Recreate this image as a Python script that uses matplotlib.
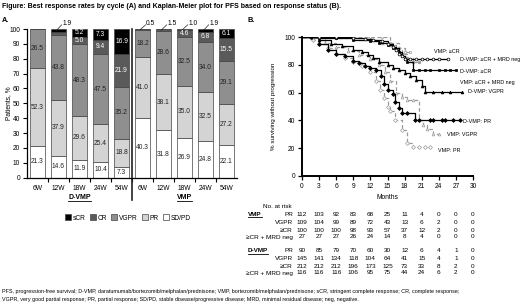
import matplotlib
matplotlib.use('Agg')
import matplotlib.pyplot as plt
import matplotlib.transforms as mtransforms
from matplotlib.patches import Patch
from matplotlib.lines import Line2D
import numpy as np

plt.rcParams['font.family'] = ['Liberation Sans Narrow', 'Liberation Sans', 'DejaVu Sans']
plt.rcParams['font.size'] = 5

# ---- panel A data: best response by cycle ----
cycles = ['6W', '12W', '18W', '24W', '54W']
groups = ['D-VMP', 'VMP']
resp_names = ['sCR', 'CR', 'VGPR', 'PR', 'SD/PD']

dvmp_sdpd = [21.3, 14.6, 11.9, 10.4, 7.3]
dvmp_pr = [52.3, 37.9, 29.6, 25.4, 18.8]
dvmp_vgpr = [26.5, 43.8, 48.3, 47.5, 35.2]
dvmp_cr = [0.0, 1.8, 5.0, 9.4, 21.9]
dvmp_scr = [0.0, 1.9, 5.2, 7.3, 16.9]

vmp_sdpd = [40.3, 31.8, 26.9, 24.8, 22.1]
vmp_pr = [41.0, 38.1, 35.0, 32.5, 27.2]
vmp_vgpr = [18.2, 28.6, 32.5, 34.0, 29.1]
vmp_cr = [0.5, 1.5, 4.6, 6.8, 15.5]
vmp_scr = [0.0, 0.0, 1.0, 1.9, 6.1]

# ---- panel B data: KM curves (months, % surviving) ----
dvmp_mrd_t = [0, 3, 6, 9, 11, 12.5, 14, 15, 16, 16.5, 17, 17.5, 18, 19, 20, 21, 22, 23, 24, 25.6]
dvmp_mrd_s = [100, 100, 100, 99, 98.5, 97.5, 97, 95, 93, 91, 88, 86, 84, 84, 84, 84, 84, 84, 84, 84]
dvmp_cr_t = [0, 3, 6, 9, 12, 13.5, 15, 16, 17, 17.5, 18, 18.5, 19.5, 20.5, 21.5, 22.5, 24, 25, 26, 27]
dvmp_cr_s = [100, 99.5, 99, 98, 97, 96, 94, 92, 89, 86, 84, 82, 76, 76, 76, 76, 76, 76, 76, 76]
vmp_cr_t = [0, 3, 6, 9, 12, 14, 15.5, 16.5, 17.5, 18.5, 19.5, 20.5]
vmp_cr_s = [100, 100, 99, 99, 98, 96, 94, 91, 88, 85, 82, 82]
vmp_mrd_t = [0, 3, 6, 9, 12, 14, 15.5, 17, 18, 19]
vmp_mrd_s = [100, 100, 100, 100, 100, 100, 96, 92, 89, 89]
dvmp_vgpr_t = [0, 1.5, 3, 5, 7, 9, 10.5, 11.5, 12.5, 13.5, 15, 16, 17, 18, 19, 20, 21, 21.6, 23, 24.5, 26, 28]
dvmp_vgpr_s = [100, 100, 97.5, 95, 93.5, 91, 89, 87, 85, 82, 80, 78, 76, 74, 72, 69, 65, 60.5, 60.5, 60.5, 60.5, 60.5]
dvmp_pr_t = [0, 1.5, 3, 4.5, 6, 7.5, 9, 10, 11, 12, 13, 13.8, 14.3, 15, 16, 16.3, 17, 17.6, 18.5, 19.8,
             20.5, 22.5, 23, 24.5, 25, 26.5, 27.7]
dvmp_pr_s = [100, 100, 95, 91, 88, 86, 83, 81, 79, 78, 76, 72, 66, 62, 59, 53, 49, 45, 45, 40,
             40, 40, 40, 40, 40, 40, 40]
vmp_vgpr_t = [0, 2, 4, 6, 8, 10, 12, 13.5, 14.5, 15.5, 16.5, 17.5, 18.5, 19.5, 20.5, 21.2, 22, 23, 24]
vmp_vgpr_s = [100, 99, 96, 93, 90, 87, 84, 80, 75, 68, 60, 57, 55, 55, 40, 37, 34, 30, 30]
vmp_pr_t = [0, 2, 3, 4.5, 6, 7.5, 9, 10.5, 12, 13, 13.7, 14.3, 15, 15.5, 16.3, 17.5, 18.5, 19.5, 20.5, 21.5, 22.5]
vmp_pr_s = [100, 98, 95, 92, 88, 85, 82, 79, 75, 68, 62, 56, 50, 47, 40, 33, 24, 21, 21, 21, 21]

# number at risk
risk_months = list(range(0, 31, 3))
risk_rows = ['PR', 'VGPR', '\u2265CR', '\u2265CR + MRD neg']
vmp_risk = [
    [112, 103, 92, 83, 68, 25, 11, 4, 0, 0, 0],
    [109, 104, 99, 89, 72, 43, 13, 6, 2, 0, 0],
    [100, 100, 100, 98, 93, 57, 37, 12, 2, 0, 0],
    [27, 27, 27, 26, 24, 14, 8, 4, 0, 0, 0],
]
dvmp_risk = [
    [90, 85, 79, 70, 60, 30, 12, 6, 4, 1, 0],
    [145, 141, 134, 118, 104, 64, 41, 15, 4, 1, 0],
    [212, 212, 212, 196, 173, 125, 73, 33, 8, 2, 0],
    [116, 116, 116, 106, 95, 75, 44, 24, 6, 2, 0],
]

W, H = 520, 308
def fx(px):
    return px / W
def fy(py):
    return 1 - py / H

fig = plt.figure(figsize=(5.2, 3.08), dpi=100)

fig.text(fx(2), fy(7), 'Figure: Best response rates by cycle (A) and Kaplan-Meier plot for PFS based on response status (B).',
         fontsize=5.0, fontweight='bold', va='center', ha='left')
fig.text(fx(2), fy(21), 'A.', fontsize=5.3, fontweight='bold', va='center')
fig.text(fx(247), fy(21), 'B.', fontsize=5.3, fontweight='bold', va='center')

# ================= panel A =================
axA = fig.add_axes([fx(27), fy(177.7), fx(210), (177.7 - 29) / H])
colors = {'sCR': '#000000', 'CR': '#5a5a5a', 'VGPR': '#8f8f8f', 'PR': '#d4d4d4', 'SD/PD': '#ffffff'}
txtcol = {'sCR': 'white', 'CR': 'white', 'VGPR': '#222222', 'PR': '#222222', 'SD/PD': '#222222'}

series = {
    'SD/PD': dvmp_sdpd + vmp_sdpd,
    'PR': dvmp_pr + vmp_pr,
    'VGPR': dvmp_vgpr + vmp_vgpr,
    'CR': dvmp_cr + vmp_cr,
    'sCR': dvmp_scr + vmp_scr,
}
x = np.arange(len(cycles) * 2)
bottom = np.zeros(len(x))
top_small = {}
for name in ['SD/PD', 'PR', 'VGPR', 'CR', 'sCR']:
    vals = np.array(series[name])
    axA.bar(x, vals, bottom=bottom, width=0.7, color=colors[name], edgecolor='#444444', linewidth=0.5)
    for i, v in enumerate(vals):
        if v >= 3:
            axA.text(x[i], bottom[i] + v / 2, f'{v:.1f}', ha='center', va='center',
                     fontsize=4.8, color=txtcol[name])
        elif v > 0:
            top_small[i] = (v, bottom[i] + v / 2)
    bottom += vals

for i, (v, ymid) in top_small.items():
    axA.plot([x[i] - 0.1, x[i] + 0.15], [ymid, 102.8], color='#222222', lw=0.5, clip_on=False)
    axA.text(x[i] + 0.17, 104, f'{v:.1f}', ha='left', va='center', fontsize=4.8, clip_on=False)

axA.set_xlim(-0.5, 9.5)
axA.set_ylim(0, 100)
axA.set_yticks(np.arange(0, 101, 10))
axA.set_xticks(x)
axA.set_xticklabels(cycles * 2)
axA.set_xticks(np.arange(0.5, 9.5, 1), minor=True)
axA.tick_params(axis='x', which='major', length=0, pad=5, labelsize=4.8)
axA.tick_params(axis='x', which='minor', length=3, width=0.8)
axA.tick_params(axis='y', length=3, width=0.8, labelsize=4.8, pad=2)
for s in ['top', 'right']:
    axA.spines[s].set_visible(False)
axA.spines['left'].set_linewidth(0.9)
axA.spines['bottom'].set_linewidth(0.9)
axA.set_ylabel('Patients, %', fontsize=4.8)
axA.yaxis.set_label_coords(-0.07, 0.5)

# divider between groups
axA.plot([4.5, 4.5], [100, -15], color='#222222', lw=1.2, clip_on=False)

group_texts = []
for g, gx in zip(groups, [2, 7]):
    t = axA.text(gx, -13, g, ha='center', va='center', fontsize=5.0, fontweight='bold', clip_on=False)
    group_texts.append(t)

handles = [Patch(facecolor=colors[n], edgecolor='#444444', linewidth=0.5, label=n) for n in resp_names]
fig.legend(handles=handles, loc='center', bbox_to_anchor=(fx(128), fy(218)), ncol=5, frameon=False,
           fontsize=4.8, handlelength=0.9, handleheight=0.9, handletextpad=0.3, columnspacing=0.6)

# ================= panel B =================
axB = fig.add_axes([fx(302), fy(176), fx(171), 139 / H])
curves = [
    (vmp_pr_t, vmp_pr_s, '#9a9a9a', (0, (3, 2)), 'D', 'white'),
    (vmp_vgpr_t, vmp_vgpr_s, '#9a9a9a', (0, (3, 2)), '^', 'white'),
    (vmp_mrd_t, vmp_mrd_s, '#9a9a9a', (0, (3, 2)), 's', 'white'),
    (vmp_cr_t, vmp_cr_s, '#9a9a9a', (0, (3, 2)), 'o', '#9a9a9a'),
    (dvmp_pr_t, dvmp_pr_s, 'black', '-', 'D', 'black'),
    (dvmp_vgpr_t, dvmp_vgpr_s, 'black', '-', '^', 'black'),
    (dvmp_cr_t, dvmp_cr_s, 'black', '-', 's', 'black'),
    (dvmp_mrd_t, dvmp_mrd_s, 'black', '-', 'o', 'white'),
]
for t, s, c, ls, m, mfc in curves:
    axB.plot(t, s, drawstyle='steps-post', color=c, linestyle=ls, lw=0.9)
    axB.plot(t[1:], s[1:], linestyle='none', marker=m, markersize=2.0, color=c,
             markerfacecolor=mfc, markeredgewidth=0.5)

curve_labels = [
    ('VMP: \u2265CR', 23.2, 89.5),
    ('D-VMP: \u2265CR + MRD neg', 27.7, 84),
    ('D-VMP: \u2265CR', 27.7, 75.5),
    ('VMP: \u2265CR + MRD neg', 27.7, 67.5),
    ('D-VMP: VGPR', 29.1, 60.5),
    ('D-VMP: PR', 28.3, 39.5),
    ('VMP: VGPR', 25.4, 29.5),
    ('VMP: PR', 23.9, 18.5),
]
for lab, lx, ly in curve_labels:
    axB.text(lx, ly, lab, fontsize=3.9, va='center', ha='left', clip_on=False)

axB.set_xlim(0, 30)
axB.set_ylim(0, 100)
axB.set_xticks(risk_months)
axB.set_yticks(np.arange(0, 101, 20))
for s in ['top', 'right']:
    axB.spines[s].set_visible(False)
axB.spines['left'].set_linewidth(1.4)
axB.spines['bottom'].set_linewidth(1.4)
axB.tick_params(length=3, width=0.9, labelsize=4.8, pad=2)
axB.set_xlabel('Months', fontsize=4.8, labelpad=3)
axB.set_ylabel('% surviving without progression', fontsize=4.5)
axB.yaxis.set_label_coords(-0.152, 0.5)

# risk table
trans = mtransforms.blended_transform_factory(axB.transData, fig.transFigure)
fig.text(fx(263), fy(207), 'No. at risk', fontsize=4.6, va='center', ha='left')
row_y_vmp = [214, 222, 230, 237]
row_y_dvmp = [251, 258, 266, 273]
for gname, table, rows_y in [('VMP', vmp_risk, row_y_vmp), ('D-VMP', dvmp_risk, row_y_dvmp)]:
    gt = fig.text(fx(248), fy(rows_y[0]), gname, fontsize=4.6, fontweight='bold', va='center', ha='left')
    group_texts.append(gt)
    for r, (rname, vals) in enumerate(zip(risk_rows, table)):
        fig.text(fx(293), fy(rows_y[r]), rname, fontsize=4.6, va='center', ha='right')
        for m, v in zip(risk_months, vals):
            fig.text(m, fy(rows_y[r]), str(v), fontsize=4.6, va='center', ha='center', transform=trans)

# footnote
fig.text(fx(2), fy(292), 'PFS, progression-free survival; D-VMP, daratumumab/bortezomib/melphalan/prednisone; '
         'VMP, bortezomib/melphalan/prednisone; sCR, stringent complete response; CR, complete response;',
         fontsize=3.9, va='center', ha='left')
fig.text(fx(2), fy(300), 'VGPR, very good partial response; PR, partial response; SD/PD, stable disease/progressive '
         'disease; MRD, minimal residual disease; neg, negative.', fontsize=3.9, va='center', ha='left')

# underline group labels
fig.canvas.draw()
r = fig.canvas.get_renderer()
for t in group_texts:
    bb = t.get_window_extent(r).transformed(fig.transFigure.inverted())
    fig.add_artist(Line2D([bb.x0, bb.x1], [bb.y0 - 0.002, bb.y0 - 0.002], color='black', lw=0.6,
                          transform=fig.transFigure))

fig.savefig('out.png', dpi=100)
